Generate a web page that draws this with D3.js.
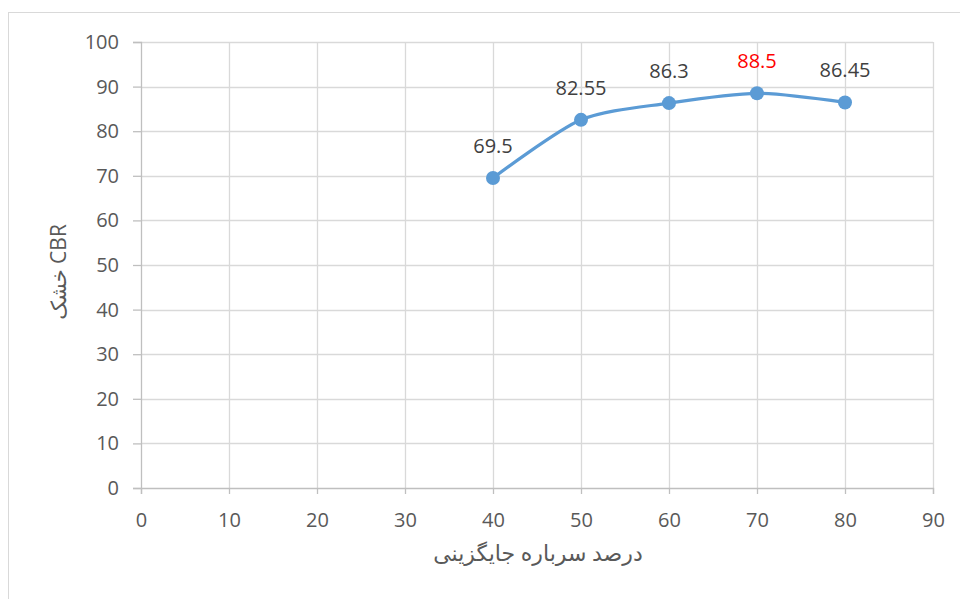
<!DOCTYPE html>
<html>
<head>
<meta charset="utf-8">
<script src="https://cdn.jsdelivr.net/npm/d3@7"></script>
<style>
  body { margin: 0; background: #fff; }
  text { font-family: "Open Sans", "DejaVu Sans", sans-serif; }
</style>
</head>
<body>
<div id="main"></div>
<script>
let xValues = [40, 50, 60, 70, 80]
let cbrValues = [69.5, 82.55, 86.3, 88.5, 86.45]
let labelColors = ["#404040", "#404040", "#404040", "#ff0000", "#404040"]
let xTicks = [0, 10, 20, 30, 40, 50, 60, 70, 80, 90]
let yTicks = [0, 10, 20, 30, 40, 50, 60, 70, 80, 90, 100]
let xTitle = "درصد سرباره جایگزینی"
let yTitle = "خشک CBR"

let width = 960
let height = 599
let plotLeft = 141, plotRight = 933, plotTop = 42, plotBottom = 488
let fontFamily = "'Open Sans', 'DejaVu Sans', sans-serif"

let svg = d3.select("#main")
            .append("svg")
            .attr("width", width)
            .attr("height", height)

// chart frame
svg.append("rect")
   .attr("x", 8.5).attr("y", 12.5)
   .attr("width", 960).attr("height", 600)
   .attr("fill", "none")
   .attr("stroke", "#d9d9d9")

const xScale = d3.scaleLinear().domain([0, 90]).range([plotLeft, plotRight])
const yScale = d3.scaleLinear().domain([0, 100]).range([plotBottom, plotTop])

// gridlines
svg.append("g")
   .selectAll("line")
   .data(yTicks.slice(1))
   .enter()
   .append("line")
   .attr("x1", plotLeft).attr("x2", plotRight)
   .attr("y1", d => Math.round(yScale(d)) + 0.5)
   .attr("y2", d => Math.round(yScale(d)) + 0.5)
   .attr("stroke", "#d9d9d9")
   .attr("stroke-width", 1.3)

svg.append("g")
   .selectAll("line")
   .data(xTicks.slice(1))
   .enter()
   .append("line")
   .attr("y1", plotTop).attr("y2", plotBottom)
   .attr("x1", d => Math.round(xScale(d)) + 0.5)
   .attr("x2", d => Math.round(xScale(d)) + 0.5)
   .attr("stroke", "#d9d9d9")
   .attr("stroke-width", 1.3)

// axes
let xAxis = d3.axisBottom(xScale).tickValues(xTicks).tickSize(6).tickPadding(19)
let yAxis = d3.axisLeft(yScale).tickValues(yTicks).tickSize(8).tickPadding(14)

let gx = svg.append("g")
   .attr("transform", `translate(0, ${plotBottom})`)
   .call(xAxis)
let gy = svg.append("g")
   .attr("transform", `translate(${plotLeft}, 0)`)
   .call(yAxis)

for (let g of [gx, gy]) {
  g.select(".domain").attr("stroke", "#bfbfbf").attr("stroke-width", 1.3)
  g.selectAll(".tick line").attr("stroke", "#bfbfbf").attr("stroke-width", 1.3)
  g.selectAll(".tick text")
   .attr("fill", "#595959")
   .style("font-size", "20px")
   .style("font-family", fontFamily)
}

// axis titles
svg.append("text")
   .attr("x", 538)
   .attr("y", 561)
   .attr("text-anchor", "middle")
   .attr("fill", "#595959")
   .style("font-size", "22px")
   .text(xTitle)

svg.append("text")
   .attr("transform", "translate(66, 272) rotate(-90)")
   .attr("text-anchor", "middle")
   .attr("fill", "#595959")
   .style("font-size", "21px")
   .text(yTitle)

// smoothed series line
let pts = xValues.map((x, i) => [x, cbrValues[i]])
let line = d3.line()
             .x(d => xScale(d[0]))
             .y(d => yScale(d[1]))
             .curve(d3.curveCardinal.tension(0.2))

svg.append("path")
   .datum(pts)
   .attr("d", line)
   .attr("fill", "none")
   .attr("stroke", "#5b9bd5")
   .attr("stroke-width", 3.2)
   .attr("stroke-linecap", "round")

svg.selectAll("circle")
   .data(pts)
   .enter()
   .append("circle")
   .attr("cx", d => xScale(d[0]))
   .attr("cy", d => yScale(d[1]))
   .attr("r", 7)
   .attr("fill", "#5b9bd5")

svg.selectAll("text.lbl")
   .data(pts)
   .enter()
   .append("text")
   .attr("class", "lbl")
   .attr("x", d => xScale(d[0]))
   .attr("y", d => yScale(d[1]) - 25)
   .attr("text-anchor", "middle")
   .attr("fill", (d, i) => labelColors[i])
   .style("font-size", "20px")
   .text((d, i) => cbrValues[i])
</script>
</body>
</html>
